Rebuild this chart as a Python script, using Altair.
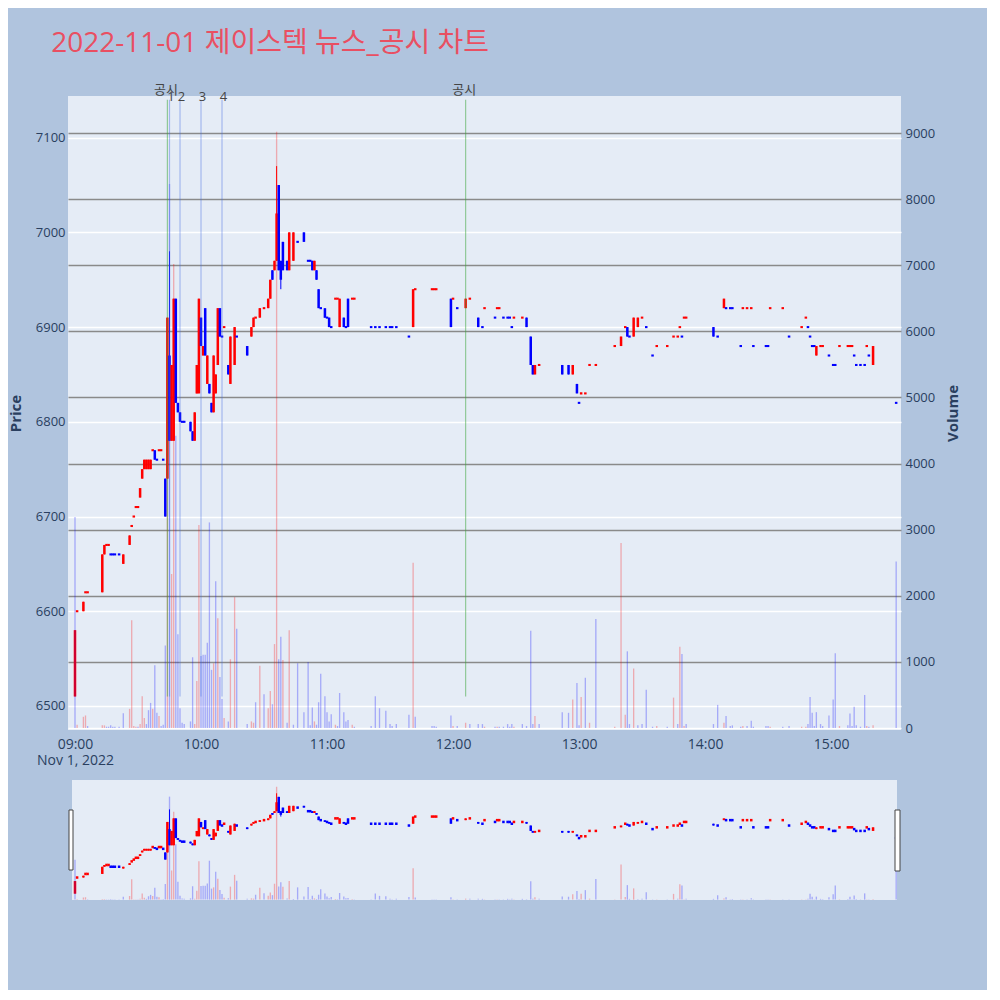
import altair as alt
import numpy as np
import pandas as pd

TITLE = "2022-11-01 제이스텍 뉴스_공시 차트"
FONT = "Open Sans, Noto Sans CJK KR, sans-serif"
BG = "#b0c4de"
PLOT_BG = "#e5ecf6"
TEXT = "#2a3f5f"

# minutes after 09:00 (1-minute candles, 2022-11-01)
minutes = [
    0, 1, 4, 5, 6, 13, 14, 15, 16, 17,
    18, 19, 21, 23, 26, 27, 28, 29, 30, 31,
    32, 33, 34, 35, 36, 37, 38, 39, 40, 41,
    42, 43, 44, 45, 46, 47, 48, 49, 50, 51,
    52, 55, 56, 57, 58, 59, 60, 61, 62, 63,
    64, 65, 66, 67, 68, 69, 70, 71, 73, 74,
    76, 77, 82, 84, 85, 86, 88, 90, 92, 93,
    94, 95, 96, 97, 98, 99, 101, 102, 104, 106,
    109, 111, 112, 113, 114, 115, 116, 117, 119, 120,
    121, 122, 124, 125, 126, 128, 129, 130, 132, 133,
    141, 143, 145, 148, 150, 151, 153, 159, 161, 162,
    170, 171, 172, 179, 180, 182, 186, 188, 192, 194,
    195, 200, 201, 202, 204, 206, 207, 208, 209, 213,
    215, 217, 218, 219, 221, 232, 235, 237, 239, 240,
    241, 243, 245, 248, 257, 260, 262, 263, 264, 266,
    268, 270, 272, 275, 277, 282, 285, 287, 288, 289,
    290, 291, 304, 306, 309, 310, 312, 313, 317, 318,
    320, 322, 323, 329, 330, 331, 337, 340, 346, 348,
    349, 350, 351, 352, 353, 355, 356, 359, 361, 362,
    364, 368, 369, 370, 371, 372, 374, 376, 377, 378,
    380, 391,
]
opens = [
    6510, 6600, 6600, 6620, 6620, 6620, 6660, 6670, 6670, 6660,
    6660, 6660, 6660, 6650, 6670, 6690, 6700, 6710, 6710, 6720,
    6740, 6750, 6750, 6750, 6750, 6770, 6770, 6760, 6770, 6770,
    6760, 6740, 6740, 6870, 6780, 6780, 6930, 6820, 6810, 6800,
    6800, 6800, 6790, 6780, 6830, 6830, 6910, 6870, 6920, 6840,
    6840, 6820, 6810, 6830, 6860, 6920, 6890, 6900, 6860, 6840,
    6860, 6890, 6880, 6890, 6900, 6910, 6910, 6920, 6920, 6930,
    6960, 6960, 6970, 7050, 6970, 6990, 6970, 6960, 6970, 6990,
    7000, 6970, 6970, 6970, 6960, 6960, 6940, 6920, 6920, 6910,
    6910, 6900, 6930, 6930, 6900, 6910, 6900, 6930, 6930, 6930,
    6900, 6900, 6900, 6900, 6900, 6900, 6900, 6890, 6900, 6940,
    6940, 6940, 6940, 6930, 6930, 6920, 6920, 6930, 6910, 6900,
    6920, 6910, 6920, 6920, 6910, 6910, 6910, 6900, 6910, 6910,
    6910, 6890, 6860, 6850, 6860, 6860, 6860, 6850, 6840, 6820,
    6830, 6830, 6860, 6860, 6880, 6880, 6900, 6900, 6890, 6890,
    6900, 6910, 6900, 6870, 6880, 6880, 6890, 6890, 6900, 6890,
    6910, 6910, 6900, 6890, 6920, 6920, 6920, 6920, 6880, 6920,
    6920, 6920, 6880, 6880, 6880, 6920, 6920, 6890, 6900, 6910,
    6900, 6890, 6880, 6880, 6870, 6880, 6880, 6870, 6860, 6860,
    6880, 6880, 6880, 6880, 6870, 6860, 6860, 6860, 6880, 6870,
    6860, 6820,
]
closes = [
    6580, 6600, 6610, 6620, 6620, 6660, 6670, 6670, 6670, 6660,
    6660, 6660, 6660, 6660, 6680, 6690, 6700, 6710, 6710, 6730,
    6750, 6760, 6760, 6760, 6760, 6770, 6760, 6760, 6770, 6770,
    6760, 6700, 6910, 6780, 6860, 6930, 6820, 6810, 6800, 6800,
    6800, 6790, 6780, 6810, 6860, 6930, 6880, 6880, 6870, 6870,
    6830, 6810, 6870, 6850, 6920, 6890, 6890, 6900, 6850, 6890,
    6900, 6890, 6870, 6900, 6910, 6910, 6920, 6920, 6930, 6950,
    6950, 6970, 7020, 6960, 6950, 6960, 6960, 7000, 7000, 6990,
    6990, 6970, 6970, 6960, 6970, 6950, 6920, 6920, 6910, 6910,
    6900, 6900, 6930, 6930, 6930, 6900, 6900, 6900, 6930, 6930,
    6900, 6900, 6900, 6900, 6900, 6900, 6900, 6890, 6940, 6940,
    6940, 6940, 6940, 6900, 6930, 6920, 6930, 6930, 6900, 6900,
    6920, 6910, 6920, 6920, 6910, 6910, 6910, 6900, 6910, 6910,
    6900, 6860, 6850, 6860, 6860, 6850, 6850, 6860, 6830, 6820,
    6830, 6830, 6860, 6860, 6880, 6890, 6900, 6890, 6890, 6910,
    6910, 6910, 6900, 6870, 6880, 6880, 6890, 6890, 6900, 6890,
    6910, 6910, 6890, 6890, 6930, 6920, 6920, 6920, 6880, 6920,
    6920, 6920, 6880, 6880, 6880, 6920, 6920, 6890, 6900, 6910,
    6900, 6890, 6880, 6880, 6880, 6880, 6880, 6870, 6860, 6860,
    6880, 6880, 6880, 6880, 6870, 6860, 6860, 6860, 6880, 6870,
    6880, 6820,
]
volumes = [
    3190, 50, 170, 190, 30, 40, 40, 20, 20, 40,
    20, 20, 20, 225, 290, 1630, 30, 20, 20, 60,
    480, 150, 60, 270, 380, 290, 950, 230, 180, 30,
    50, 1250, 5000, 8230, 2330, 7020, 4420, 1420, 300, 80,
    60, 100, 1070, 60, 710, 3070, 1090, 1110, 1110, 1290,
    3110, 880, 980, 2220, 1660, 770, 440, 150, 100, 1040,
    1980, 1500, 60, 100, 80, 390, 940, 510, 300, 560,
    360, 1270, 9020, 1040, 1380, 1030, 80, 1480, 50, 980,
    240, 1000, 40, 310, 100, 50, 390, 820, 480, 240,
    100, 210, 50, 30, 530, 240, 100, 120, 50, 20,
    30, 480, 300, 260, 60, 30, 60, 200, 2500, 170,
    30, 30, 20, 190, 30, 30, 80, 60, 60, 60,
    20, 20, 20, 20, 20, 60, 20, 60, 20, 60,
    30, 1470, 60, 180, 60, 240, 230, 430, 680, 40,
    470, 760, 80, 1650, 20, 2800, 200, 1160, 60, 900,
    40, 60, 580, 20, 30, 20, 460, 60, 1230, 1120,
    30, 60, 60, 350, 80, 180, 30, 40, 20, 30,
    30, 110, 20, 30, 30, 20, 20, 30, 20, 20,
    60, 470, 230, 30, 240, 60, 30, 190, 430, 1130,
    30, 40, 220, 30, 320, 40, 20, 500, 30, 20,
    40, 2520,
]
# wicks that reach beyond the candle body
high_wicks = {45: 6980, 96: 7070}
low_wicks = {45: 6780, 98: 6940}

# news / disclosure markers
event_minutes = [44, 45, 50, 60, 70, 186]
event_labels = ["공시", "1", "2", "3", "4", "공시"]
event_kinds = ["공시", "뉴스", "뉴스", "뉴스", "뉴스", "공시"]

PRICE_DOMAIN = [6474.6, 7144]
VOL_DOMAIN = [-30, 9560]
X_DOMAIN = [-3.33, 393.3]

df = pd.DataFrame({"minute": minutes, "open": opens, "close": closes, "volume": volumes})
df["high"] = df[["open", "close"]].max(axis=1)
df["low"] = df[["open", "close"]].min(axis=1)
for m, v in high_wicks.items():
    df.loc[df["minute"] == m, "high"] = v
for m, v in low_wicks.items():
    df.loc[df["minute"] == m, "low"] = v

# candle colour: body direction, dojis follow the previous close
prev_close = df["close"].shift(1)
up = []
for i, row in df.iterrows():
    if row["close"] != row["open"]:
        up.append(row["close"] > row["open"])
    elif i > 0 and row["close"] != prev_close[i]:
        up.append(row["close"] > prev_close[i])
    else:
        up.append(up[-1] if up else True)
df["candle"] = np.where(up, "up", "down")
df["vol_dir"] = np.where(df["close"] > prev_close, "up", "down")

flat = (df["open"] == df["close"]).astype(float)
body_min = df[["open", "close"]].min(axis=1)
body_max = df[["open", "close"]].max(axis=1)
df["body_lo"] = body_min - 1.1 * flat
df["body_hi"] = body_max + 1.1 * flat
df["mini_lo"] = body_min - 7 * flat
df["mini_hi"] = body_max + 7 * flat
df["x0"] = df["minute"] - 0.6
df["x1"] = df["minute"] + 0.6
df["vx0"] = df["minute"] - 0.32
df["vx1"] = df["minute"] + 0.32

events = pd.DataFrame({"minute": event_minutes, "label": event_labels, "kind": event_kinds})
events["y0"] = 6510
events["y1"] = 7140

dir_color = alt.Scale(domain=["up", "down"], range=["#ff0000", "#0000ff"])

x_axis = alt.Axis(
    values=list(range(0, 361, 60)),
    labelExpr="datum.value == 0 ? ['09:00', 'Nov 1, 2022'] : format(9 + datum.value / 60, '02d') + ':00'",
    labelLineHeight=16,
    labelFontSize=14,
    labelPadding=7,
    labelFlush=False,
    grid=False,
    domain=False,
    ticks=False,
    title=None,
)


def xenc(field, axis=x_axis):
    return alt.X(f"{field}:Q", scale=alt.Scale(domain=X_DOMAIN, nice=False, zero=False), axis=axis)


def x2enc(field):
    return alt.X2(f"{field}:Q")


price_scale = alt.Scale(domain=PRICE_DOMAIN, nice=False, zero=False)
vol_scale = alt.Scale(domain=VOL_DOMAIN, nice=False, zero=False)

price_axis = alt.Axis(
    values=list(range(6500, 7101, 100)),
    format="d",
    orient="left",
    title="Price",
    grid=True,
    gridColor="white",
    gridWidth=1.5,
    domain=False,
    ticks=False,
    labelFontSize=13,
    labelPadding=3,
    titleFontSize=15,
    titleFontWeight="bold",
    titlePadding=12,
)
vol_axis = alt.Axis(
    values=list(range(0, 9001, 1000)),
    format="d",
    orient="right",
    title="Volume",
    titleAngle=270,
    grid=True,
    gridColor={"condition": {"test": "datum.value === 0", "value": "white"}, "value": "#8a8a8a"},
    gridWidth=1.5,
    domain=False,
    ticks=False,
    labelFontSize=13,
    labelPadding=4,
    titleFontSize=15,
    titleFontWeight="bold",
    titlePadding=26,
)

base = alt.Chart(df)
color = alt.Color("candle:N", scale=dir_color, legend=None)

wick = base.mark_rule(strokeWidth=1).encode(
    x=xenc("minute"), y=alt.Y("low:Q", scale=price_scale, axis=price_axis), y2="high:Q", color=color
)
body = base.mark_bar().encode(
    x=xenc("x0"), x2=x2enc("x1"), y=alt.Y("body_lo:Q", scale=price_scale, axis=price_axis), y2="body_hi:Q", color=color
)
vol = base.mark_bar(opacity=0.28).encode(
    x=xenc("vx0"),
    x2=x2enc("vx1"),
    y=alt.Y("volume:Q", scale=vol_scale, axis=vol_axis),
    y2=alt.datum(0),
    color=alt.Color("vol_dir:N", scale=dir_color, legend=None),
)

ev = alt.Chart(events)
disc_lines = ev.transform_filter(alt.datum.kind == "공시").mark_rule(
    strokeWidth=1.2, color="#3aa63a", opacity=0.5
).encode(x=xenc("minute"), y=alt.Y("y0:Q", scale=price_scale, axis=None), y2="y1:Q")
news_lines = ev.transform_filter(alt.datum.kind == "뉴스").mark_rule(
    strokeWidth=1.2, color="royalblue", opacity=0.4
).encode(x=xenc("minute"), y=alt.Y("y0:Q", scale=price_scale, axis=None), y2="y1:Q")
ev_disc = ev.transform_filter(alt.datum.kind == "공시").mark_text(
    fontSize=13, font=FONT, color="#444444", baseline="middle", dx=-1.5
).encode(x=xenc("minute"), y=alt.value(-6), text="label:N")
ev_news = ev.transform_filter(alt.datum.kind == "뉴스").mark_text(
    fontSize=13, font=FONT, color="#444444", baseline="middle", dx=1.5
).encode(x=xenc("minute"), y=alt.value(1), text="label:N")

main = (
    alt.layer(alt.layer(wick, body), vol, alt.layer(disc_lines, news_lines, ev_disc, ev_news))
    .resolve_scale(y="independent")
    .properties(width=833, height=634, view=alt.ViewBackground(fill=PLOT_BG, stroke=None))
)

# range slider preview
mini_price = alt.Scale(domain=PRICE_DOMAIN, nice=False, zero=False)
slider_bg = alt.Chart(pd.DataFrame({"k": [0]})).mark_rect(color=PLOT_BG).encode(
    x=alt.value(4), x2=alt.value(829), y=alt.value(0), y2=alt.value(120)
)
mini_wick = base.mark_rule(strokeWidth=1).encode(
    x=xenc("minute", None), y=alt.Y("low:Q", scale=mini_price, axis=None), y2="high:Q", color=color
)
mini_body = base.mark_bar().encode(
    x=xenc("x0", None), x2=x2enc("x1"), y=alt.Y("mini_lo:Q", scale=mini_price, axis=None), y2="mini_hi:Q", color=color
)
mini_vol = base.mark_bar(opacity=0.28).encode(
    x=xenc("vx0", None),
    x2=x2enc("vx1"),
    y=alt.Y("volume:Q", scale=vol_scale, axis=None),
    y2=alt.datum(0),
    color=alt.Color("vol_dir:N", scale=dir_color, legend=None),
)
handle_l = alt.Chart(pd.DataFrame({"k": [0]})).mark_rect(fill="white", stroke="#444444", strokeWidth=1).encode(
    x=alt.value(1), x2=alt.value(5), y=alt.value(30), y2=alt.value(90)
)
handle_r = alt.Chart(pd.DataFrame({"k": [0]})).mark_rect(fill="white", stroke="#444444", strokeWidth=1).encode(
    x=alt.value(827), x2=alt.value(832), y=alt.value(30), y2=alt.value(91)
)
mini = (
    alt.layer(slider_bg, alt.layer(mini_wick, mini_body), mini_vol, handle_l, handle_r)
    .resolve_scale(y="independent")
    .properties(width=833, height=120, view=alt.ViewBackground(fill=BG, stroke=None))
)

chart = (
    alt.vconcat(main, mini, spacing=50, bounds="flush")
    .properties(
        title=alt.Title(
            TITLE, anchor="start", fontSize=28, font=FONT, color="#e94f62", fontWeight="normal", dx=43, offset=26
        ),
        background=BG,
        padding={"left": 0, "top": 22, "right": 26, "bottom": 90},
    )
    .configure_axis(labelFont=FONT, titleFont=FONT, labelColor=TEXT, titleColor=TEXT)
    .configure_view(stroke=None)
)

chart.save("out.html", embed_options={"renderer": "svg", "actions": False})
